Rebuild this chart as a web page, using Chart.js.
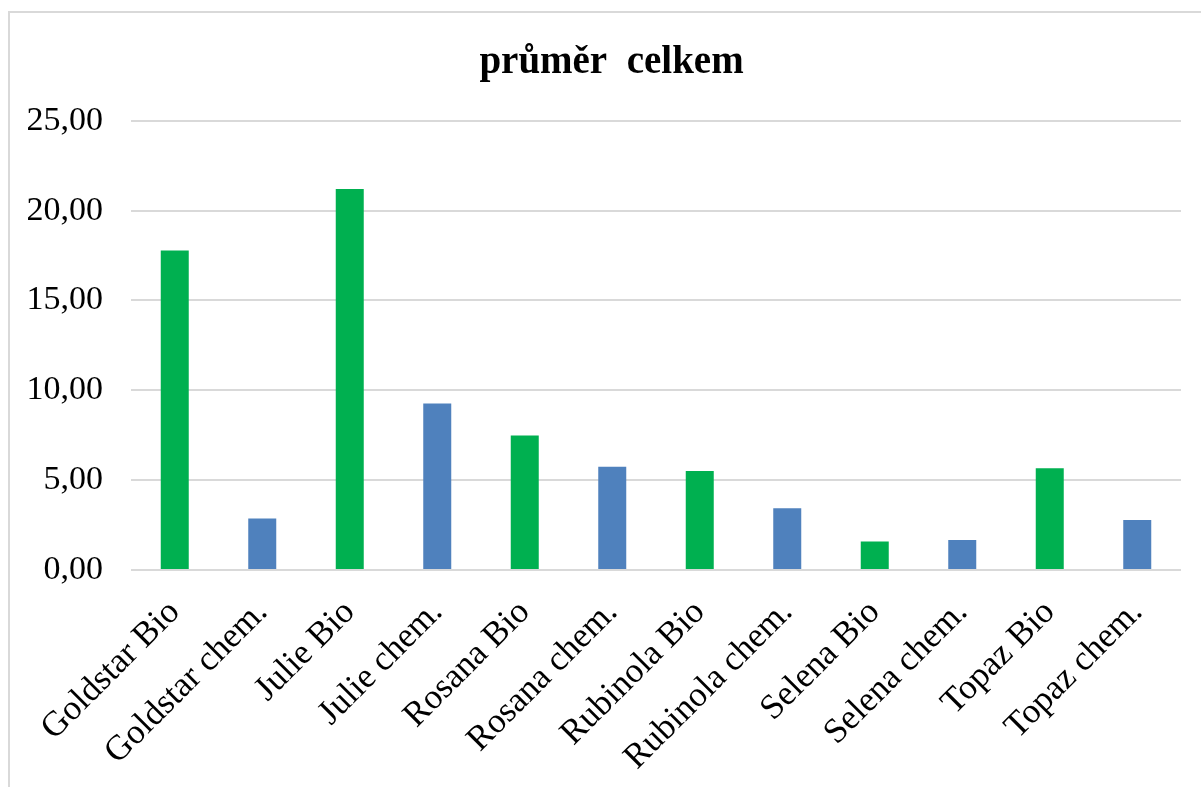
<!DOCTYPE html>
<html>
<head>
<meta charset="utf-8">
<script src="https://cdn.jsdelivr.net/npm/chart.js@4"></script>
<style>
  html, body { margin: 0; padding: 0; background: #fff; }
  #wrap { position: relative; width: 1201px; height: 787px; overflow: hidden; }
  #frame {
    position: absolute; left: 8px; top: 11px; width: 1300px; height: 900px;
    border: 2px solid #d9d9d9; box-sizing: border-box;
  }
  #chart { position: absolute; left: 0; top: 0; }
</style>
</head>
<body>
<div id="wrap">
  <div id="frame"></div>
  <canvas id="chart" width="1201" height="787"></canvas>
</div>
<script>
// odrůdy a způsob pěstování
const categories = [
  'Goldstar Bio', 'Goldstar chem.', 'Julie Bio', 'Julie chem.',
  'Rosana Bio', 'Rosana chem.', 'Rubinola Bio', 'Rubinola chem.',
  'Selena Bio', 'Selena chem.', 'Topaz Bio', 'Topaz chem.'
];

// průměr celkem
const values = [17.78, 2.86, 21.21, 9.26, 7.48, 5.75, 5.51, 3.44, 1.58, 1.67, 5.66, 2.78];

// osa Y
const yTicks = [0, 5, 10, 15, 20, 25];

const GREEN = '#00b050';
const BLUE = '#4f81bd';
const serif = '"Liberation Serif", "Times New Roman", serif';

const barColors = categories.map(c => c.endsWith('Bio') ? GREEN : BLUE);

// nadpis je v originále vycentrovaný na rámeček, ne na celé plátno
const titleShift = {
  id: 'titleShift',
  afterLayout(chart) {
    if (chart.titleBlock) chart.titleBlock.left += 42;
  }
};

const ctx = document.getElementById('chart').getContext('2d');
new Chart(ctx, {
  type: 'bar',
  data: {
    labels: categories,
    datasets: [{
      label: 'průměr celkem',
      data: values,
      backgroundColor: barColors,
      borderWidth: 0,
      barPercentage: 0.32,
      categoryPercentage: 1
    }]
  },
  options: {
    responsive: false,
    animation: false,
    layout: { padding: { left: 0, right: 20, top: 0, bottom: 0 } },
    plugins: {
      legend: { display: false },
      tooltip: { enabled: false },
      title: {
        display: true,
        text: 'průměr  celkem',
        color: '#000',
        font: { family: serif, size: 39, weight: 'bold' },
        padding: { top: 40, bottom: 34 }
      }
    },
    scales: {
      x: {
        grid: { display: false },
        border: { display: false },
        ticks: {
          color: '#000',
          font: { family: serif, size: 35 },
          maxRotation: 45,
          minRotation: 45,
          padding: 14,
          autoSkip: false
        },
        afterFit: scale => { scale.height = 217; }
      },
      y: {
        min: 0,
        max: 25,
        afterBuildTicks: scale => { scale.ticks = yTicks.map(v => ({ value: v })); },
        grid: { color: '#d9d9d9', lineWidth: 2, drawTicks: false },
        border: { display: false },
        ticks: {
          color: '#000',
          font: { family: serif, size: 34 },
          padding: 28,
          callback: v => v.toFixed(2).replace('.', ',')
        },
        afterFit: scale => { scale.width = 131; }
      }
    }
  },
  plugins: [titleShift]
});
</script>
</body>
</html>
